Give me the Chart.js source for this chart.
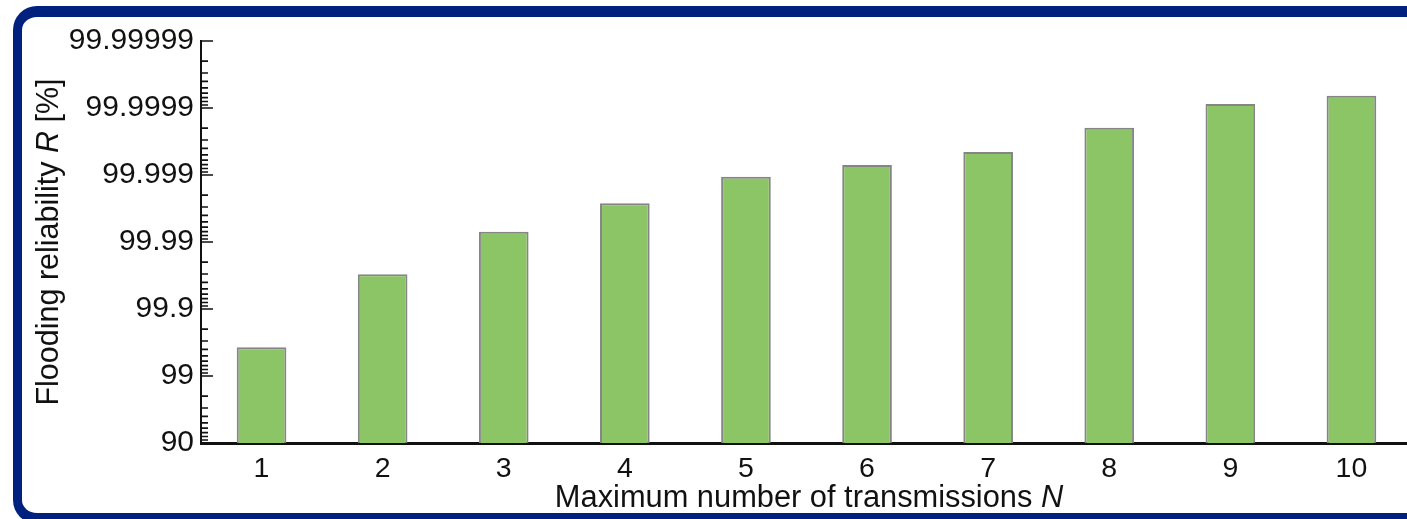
<!DOCTYPE html>
<html>
<head>
<meta charset="utf-8">
<script src="https://cdn.jsdelivr.net/npm/chart.js@4.4.0/dist/chart.umd.min.js"></script>
<style>
  html, body { margin: 0; padding: 0; width: 1407px; height: 519px; overflow: hidden; background: #fff; }
  #frame {
    position: absolute; left: 13px; top: 6px;
    width: 1500px; height: 496px;
    border-top: 11px solid #00217e;
    border-left: 9px solid #00217e;
    border-bottom: 11px solid #00217e;
    border-radius: 24px 0 0 24px;
    background: #fff;
  }
  #reliability { position: absolute; left: 0; top: 0; }
</style>
</head>
<body>
<div id="frame"></div>
<canvas id="reliability" width="1440" height="519"></canvas>
<script>
const transmissions = ['1', '2', '3', '4', '5', '6', '7', '8', '9', '10'];
// flooding reliability R in percent
const reliability = [99.627, 99.9697, 99.99299, 99.99736, 99.99894, 99.99929, 99.999546, 99.999803, 99.9999129, 99.9999345];
const yTickValues = [0, 1, 2, 3, 4, 5, 6];
const yTickLabels = ['90', '99', '99.9', '99.99', '99.999', '99.9999', '99.99999'];
const minorSteps = [2, 3, 4, 5, 6, 7, 8, 9];

// axis is log of unreliability: 90% -> 0, 99% -> 1, 99.9% -> 2 ...
const nines = reliability.map(r => 1 - Math.log10(100 - r));

const FONT = '"Liberation Sans", Arial, Helvetica, sans-serif';
const INK = '#111';

// ticks on the y axis point inward, majors long and log minors short
const innerTicks = {
  id: 'innerTicks',
  afterDraw(chart) {
    const y = chart.scales.y;
    const ctx = chart.ctx;
    const left = chart.chartArea.left;
    const top = yTickValues[yTickValues.length - 1];
    ctx.save();
    ctx.strokeStyle = INK;
    ctx.lineWidth = 1.6;
    ctx.beginPath();
    yTickValues.forEach(v => {
      const py = y.getPixelForValue(v);
      ctx.moveTo(left, py);
      ctx.lineTo(left + 12, py);
      if (v < top) {
        minorSteps.forEach(k => {
          const pm = y.getPixelForValue(v + 1 - Math.log10(k));
          ctx.moveTo(left, pm);
          ctx.lineTo(left + 7, pm);
        });
      }
    });
    ctx.stroke();
    ctx.restore();
  }
};

// axis titles with the italic symbol
function drawParts(ctx, parts, size) {
  let total = 0;
  parts.forEach(p => {
    ctx.font = p[1] + ' ' + size + 'px ' + FONT;
    total += ctx.measureText(p[0]).width;
  });
  let x = -total / 2;
  parts.forEach(p => {
    ctx.font = p[1] + ' ' + size + 'px ' + FONT;
    ctx.fillText(p[0], x, 0);
    x += ctx.measureText(p[0]).width;
  });
}

const axisTitles = {
  id: 'axisTitles',
  afterDraw(chart) {
    const ctx = chart.ctx;
    const area = chart.chartArea;
    ctx.save();
    ctx.fillStyle = INK;
    ctx.textAlign = 'left';
    ctx.textBaseline = 'alphabetic';
    ctx.save();
    ctx.translate(809, 507);
    drawParts(ctx, [['Maximum number of transmissions ', 'normal'], ['N', 'italic']], 30.8);
    ctx.restore();
    ctx.save();
    ctx.translate(58, (area.top + area.bottom) / 2);
    ctx.rotate(-Math.PI / 2);
    drawParts(ctx, [['Flooding reliability ', 'normal'], ['R', 'italic'], [' [%]', 'normal']], 30.5);
    ctx.restore();
    ctx.restore();
  }
};

new Chart(document.getElementById('reliability'), {
  type: 'bar',
  data: {
    labels: transmissions,
    datasets: [{
      data: nines,
      backgroundColor: '#8cc566',
      borderColor: '#858585',
      borderWidth: 2,
      borderSkipped: 'bottom',
      barPercentage: 0.41,
      categoryPercentage: 1
    }]
  },
  options: {
    responsive: false,
    animation: false,
    layout: {
      padding: { left: 0, top: 41, right: 28, bottom: 0 }
    },
    scales: {
      x: {
        z: 1,
        grid: { display: false, drawTicks: false },
        border: { display: true, color: INK, width: 3 },
        ticks: {
          color: INK,
          padding: 9,
          font: { family: FONT, size: 28.5 }
        },
        afterFit: scale => { scale.height = 76; }
      },
      y: {
        min: 0,
        max: 6,
        z: 1,
        grid: { display: false, drawTicks: false },
        border: { display: true, color: INK, width: 2 },
        afterBuildTicks: scale => {
          scale.ticks = yTickValues.map(v => ({ value: v }));
        },
        ticks: {
          color: INK,
          padding: 7,
          font: { family: FONT, size: 30 },
          callback: (value, index) => yTickLabels[index]
        },
        afterFit: scale => { scale.width = 201; }
      }
    },
    plugins: {
      legend: { display: false },
      tooltip: { enabled: false }
    }
  },
  plugins: [innerTicks, axisTitles]
});
</script>
</body>
</html>
